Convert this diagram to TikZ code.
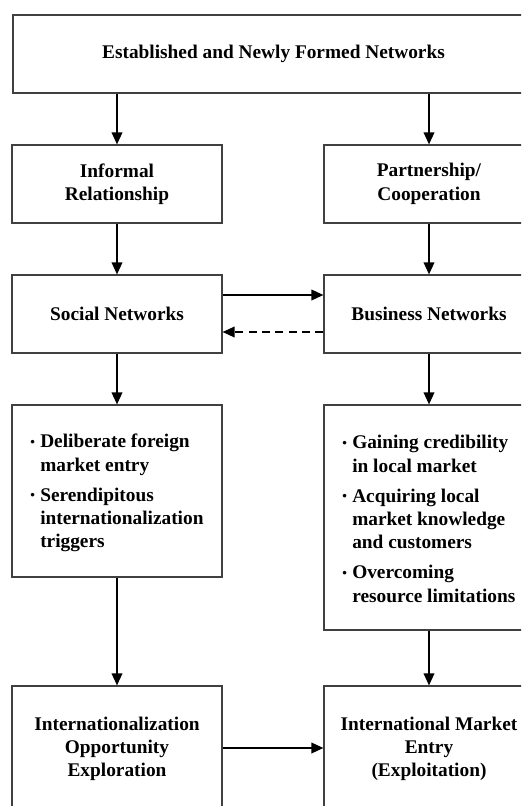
\documentclass[tikz,border=0pt]{standalone}
\usepackage{fontspec}
\setmainfont{Liberation Serif}
\usepackage{graphicx}
\usetikzlibrary{arrows.meta}
\newcommand{\bul}{\makebox[7.5pt][l]{\raisebox{1pt}{\scalebox{0.68}{\textbullet}}}}
\newcommand{\ind}{\hspace*{7.5pt}}
\begin{document}
\begin{tikzpicture}[x=0.75pt,y=-0.75pt,
  box/.style={draw=black!75, line width=0.9pt, inner sep=0pt, align=center,
    font=\bfseries\fontsize{14.5}{17.5}\selectfont},
  lcol/.style={box, minimum width=157.5pt},
  rcol/.style={box, minimum width=157.5pt},
  btext/.style={inner sep=0pt, align=left, anchor=north west,
    font=\bfseries\fontsize{14.5}{17.5}\selectfont},
  arr/.style={-{Triangle[length=9pt,width=8pt]}, line width=1.1pt, black}]
\useasboundingbox (0,0) rectangle (521,806);
\clip (0,0) rectangle (521,806);
\fill[white] (0,0) rectangle (521,806);

\node[box, minimum width=390.75pt, minimum height=58.5pt] (top) at (273.5,54) {Established and Newly Formed Networks};

\node[lcol, minimum height=58.5pt] (inf) at (117,184) {Informal\\Relationship};
\node[rcol, minimum height=58.5pt] (part) at (429,184) {Partnership/\\Cooperation};

\node[lcol, minimum height=58.5pt] (soc) at (117,314) {Social Networks};
\node[rcol, minimum height=58.5pt] (bus) at (429,314) {Business Networks};

\node[lcol, minimum height=129pt] (lb) at (117,491) {};
\node[rcol, minimum height=168.75pt] (rb) at (429,517.5) {};

\node[btext] (lbt) at (30,434) {\bul Deliberate foreign\\ \ind market entry\\[5pt]
  \bul Serendipitous\\ \ind internationalization\\ \ind triggers};
\node[btext] (rbt) at (342,435) {\bul Gaining credibility\\ \ind in local market\\[5pt]
  \bul Acquiring local\\ \ind market knowledge\\ \ind and customers\\[5pt]
  \bul Overcoming\\ \ind resource limitations};

\node[lcol, minimum height=94.5pt] (lo) at (117,749) {Internationalization\\Opportunity\\Exploration};
\node[rcol, minimum height=94.5pt] (ro) at (429,749) {International Market\\Entry\\(Exploitation)};

\draw[arr] (top.south -| inf.north) -- (inf.north);
\draw[arr] (top.south -| part.north) -- (part.north);
\draw[arr] (inf) -- (soc);
\draw[arr] (part) -- (bus);
\draw[arr] ([yshift=14.25pt]soc.east) -- ([yshift=14.25pt]soc.east -| bus.west);
\draw[arr, dashed, dash pattern=on 6pt off 4pt] ([yshift=-13.5pt]bus.west) -- ([yshift=-13.5pt]bus.west -| soc.east);
\draw[arr] (soc) -- (lb);
\draw[arr] (bus) -- (rb);
\draw[arr] (lb) -- (lo);
\draw[arr] (rb) -- (ro);
\draw[arr] (lo.east |- 0,748) -- (ro.west |- 0,748);
\end{tikzpicture}
\end{document}
